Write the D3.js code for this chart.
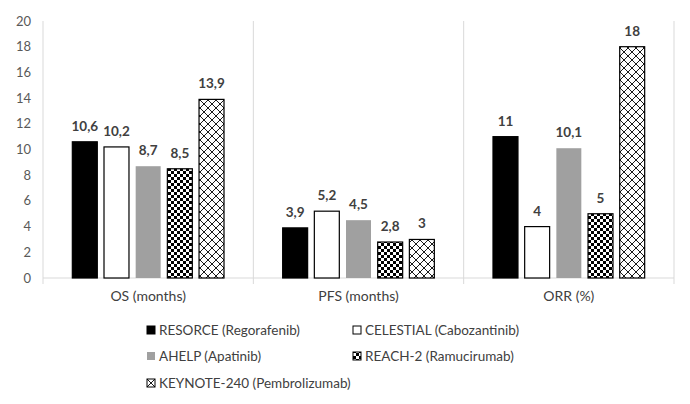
<!DOCTYPE html>
<html>
<head>
<meta charset="utf-8">
<script src="https://cdn.jsdelivr.net/npm/d3@7"></script>
<style>
  body { margin: 0; background: #fff; }
  text { font-family: Lato, "Open Sans", sans-serif; }
</style>
</head>
<body>
<div id="chart"></div>
<script>
// data
var categories = ["OS (months)", "PFS (months)", "ORR (%)"];
var series = ["RESORCE (Regorafenib)", "CELESTIAL (Cabozantinib)", "AHELP (Apatinib)", "REACH-2 (Ramucirumab)", "KEYNOTE-240 (Pembrolizumab)"];
var resorce = [10.6, 3.9, 11];
var celestial = [10.2, 5.2, 4];
var ahelp = [8.7, 4.5, 10.1];
var reach2 = [8.5, 2.8, 5];
var keynote = [13.9, 3, 18];
var yTicks = [0, 2, 4, 6, 8, 10, 12, 14, 16, 18, 20];

var values = [resorce, celestial, ahelp, reach2, keynote];
var fills = ["#000", "#fff", "#a0a0a0", "url(#checker)", "url(#diamond)"];
var strokes = ["#000", "#000", "none", "#000", "#000"];

var width = 690, height = 404;
var svg = d3.select("#chart").append("svg")
  .attr("width", width).attr("height", height);

var defs = svg.append("defs");
// checkerboard
var chk = defs.append("pattern").attr("id", "checker")
  .attr("patternUnits", "userSpaceOnUse").attr("width", 6).attr("height", 6);
chk.append("rect").attr("width", 6).attr("height", 6).attr("fill", "#fff");
chk.append("rect").attr("width", 3).attr("height", 3).attr("fill", "#000");
chk.append("rect").attr("x", 3).attr("y", 3).attr("width", 3).attr("height", 3).attr("fill", "#000");
// diamond lattice
var dia = defs.append("pattern").attr("id", "diamond")
  .attr("patternUnits", "userSpaceOnUse").attr("width", 8).attr("height", 8);
dia.append("rect").attr("width", 8).attr("height", 8).attr("fill", "#fff");
dia.append("path").attr("d", "M0,4 L4,0 L8,4 L4,8 Z")
  .attr("fill", "none").attr("stroke", "#000").attr("stroke-width", 0.9);

var x0 = d3.scaleBand().domain(categories).range([43, 674]);
var x1 = d3.scaleBand().domain(series).range([0, x0.bandwidth()])
  .paddingInner(0.18).paddingOuter(0.91);
var y = d3.scaleLinear().domain([0, 20]).range([278, 21]);

// y tick labels
svg.append("g").selectAll("text").data(yTicks).enter().append("text")
  .attr("x", 31).attr("y", function(d) { return y(d); }).attr("dy", "0.35em")
  .attr("text-anchor", "end").attr("font-size", "13px").attr("fill", "#595959")
  .text(function(d) { return d; });

// separators
var seps = categories.map(function(c) { return x0(c); }).concat([674]);
svg.append("g").selectAll("line").data(seps).enter().append("line")
  .attr("x1", function(d) { return d; }).attr("x2", function(d) { return d; })
  .attr("y1", y(20)).attr("y2", y(0) + 6)
  .attr("stroke", "#d9d9d9").attr("stroke-width", 1);
svg.append("line").attr("x1", 43).attr("x2", 674).attr("y1", y(0)).attr("y2", y(0))
  .attr("stroke", "#d9d9d9").attr("stroke-width", 1);

// bars
series.forEach(function(s, i) {
  var g = svg.append("g");
  g.selectAll("rect").data(values[i]).enter().append("rect")
    .attr("x", function(d, j) { return x0(categories[j]) + x1(s) + 0.5; })
    .attr("y", function(d) { return y(d); })
    .attr("width", x1.bandwidth() - 1)
    .attr("height", function(d) { return y(0) - y(d); })
    .attr("fill", fills[i]).attr("stroke", strokes[i]).attr("stroke-width", 1.2);
  g.selectAll("text").data(values[i]).enter().append("text")
    .attr("x", function(d, j) { return x0(categories[j]) + x1(s) + x1.bandwidth() / 2; })
    .attr("y", function(d) { return y(d) - 11; })
    .attr("text-anchor", "middle").attr("font-size", "13.5px").attr("font-weight", "bold")
    .attr("fill", "#404040")
    .text(function(d) { return String(d).replace(".", ","); });
});

// category labels
svg.append("g").selectAll("text").data(categories).enter().append("text")
  .attr("x", function(d) { return x0(d) + x0.bandwidth() / 2; })
  .attr("y", 301).attr("text-anchor", "middle")
  .attr("font-size", "14px").attr("fill", "#404040")
  .text(function(d) { return d; });

// legend
var legPos = [[147, 330], [353, 330], [147, 356], [353, 356], [147, 383]];
var leg = svg.append("g").selectAll("g").data(series).enter().append("g")
  .attr("transform", function(d, i) { return "translate(" + legPos[i][0] + "," + legPos[i][1] + ")"; });
leg.append("rect").attr("x", 0).attr("y", -4).attr("width", 8).attr("height", 8)
  .attr("fill", function(d, i) { return fills[i]; })
  .attr("stroke", function(d, i) { return strokes[i]; }).attr("stroke-width", 1);
leg.append("text").attr("x", 12).attr("dy", "0.35em")
  .attr("font-size", "13.5px").attr("fill", "#404040")
  .text(function(d) { return d; });
</script>
</body>
</html>
